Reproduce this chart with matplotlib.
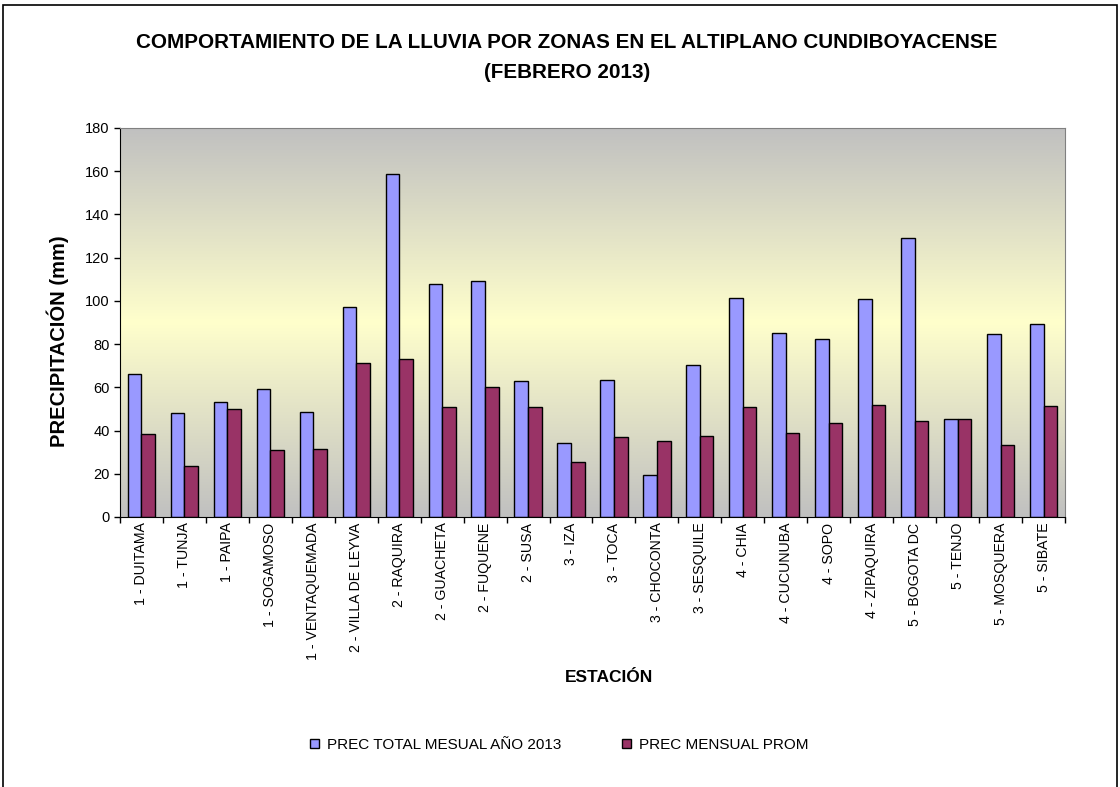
import numpy as np
import matplotlib
matplotlib.use('Agg')
import matplotlib.pyplot as plt
from matplotlib.colors import LinearSegmentedColormap
from matplotlib.patches import Rectangle

plt.rcParams['font.family'] = ['Liberation Sans', 'DejaVu Sans']

estaciones = ['1 - DUITAMA', '1 - TUNJA', '1 - PAIPA', '1 - SOGAMOSO', '1 - VENTAQUEMADA',
              '2 - VILLA DE LEYVA', '2 - RAQUIRA', '2 - GUACHETA', '2 - FUQUENE', '2 - SUSA',
              '3 - IZA', '3 - TOCA', '3 - CHOCONTA', '3 - SESQUILE', '4 - CHIA', '4 - CUCUNUBA',
              '4 - SOPO', '4 - ZIPAQUIRA', '5 - BOGOTA DC', '5 - TENJO', '5 - MOSQUERA', '5 - SIBATE']

# precipitacion total febrero 2013 (mm)
prec_total = [66.0, 48.2, 53.0, 59.0, 48.8, 97.0, 158.7, 108.0, 109.1, 63.0, 34.0,
              63.2, 19.6, 70.3, 101.2, 85.3, 82.4, 100.7, 128.9, 45.3, 84.7, 89.5]
# precipitacion mensual promedio (mm)
prec_prom = [38.2, 23.6, 50.1, 30.9, 31.5, 71.4, 72.9, 50.7, 60.3, 50.7, 25.6,
             36.9, 35.1, 37.5, 50.8, 38.8, 43.6, 51.9, 44.2, 45.3, 33.4, 51.3]

fig = plt.figure(figsize=(11.2, 7.87), dpi=100)
ax = fig.add_axes([0.1071, 0.3431, 0.8438, 0.4943])

# marco del grafico
fig.patches.append(Rectangle((0.003, -0.05), 0.994, 1.044, transform=fig.transFigure,
                             fill=False, edgecolor='black', linewidth=1.2))

n = len(estaciones)
x = np.arange(n)
w = 0.317

# fondo degradado gris - amarillo - gris
cmap = LinearSegmentedColormap.from_list('fondo', ['#C0C0C0', '#FFFFCC', '#C0C0C0'])
grad = np.linspace(0, 1, 256).reshape(-1, 1)
ax.imshow(grad, cmap=cmap, aspect='auto', extent=(-0.5, n - 0.5, 0, 180),
          origin='lower', zorder=0)

ax.bar(x - w / 2, prec_total, w, color='#9999FF', edgecolor='black', linewidth=1,
       label='PREC TOTAL MESUAL AÑO 2013', zorder=2)
ax.bar(x + w / 2, prec_prom, w, color='#993366', edgecolor='black', linewidth=1,
       label='PREC MENSUAL PROM', zorder=2)

ax.set_xlim(-0.5, n - 0.5)
ax.set_ylim(0, 180)
ax.set_yticks(range(0, 181, 20))
ax.set_xticks(np.arange(-0.5, n, 1.0))
ax.set_xticklabels([])
ax.set_xticks(x, minor=True)
ax.set_xticklabels(estaciones, minor=True, rotation=90, fontsize=10.2)
ax.tick_params(axis='x', which='minor', length=0, pad=4)
ax.tick_params(axis='x', which='major', length=4, direction='out', width=1)
ax.tick_params(axis='y', length=4, direction='out', labelsize=10.5, width=1)

for s in ['top', 'right']:
    ax.spines[s].set_color('#808080')
for s in ['left', 'bottom']:
    ax.spines[s].set_color('black')

fig.text(0.506, 1 - 42 / 787, 'COMPORTAMIENTO DE LA LLUVIA POR ZONAS EN EL ALTIPLANO CUNDIBOYACENSE',
         ha='center', va='center', fontsize=14.9, fontweight='bold')
fig.text(0.506, 1 - 72 / 787, '(FEBRERO 2013)', ha='center', va='center', fontsize=14.9,
         fontweight='bold')
fig.text(58 / 1120, 1 - 341 / 787, 'PRECIPITACIÓN (mm)', rotation=90, ha='center', va='center',
         fontsize=14.5, fontweight='bold')
fig.text(609 / 1120, 1 - 678 / 787, 'ESTACIÓN', ha='center', va='center',
         fontsize=12.5, fontweight='bold')

fig.legend(loc='center', bbox_to_anchor=(559 / 1120, 1 - 745 / 787), ncol=2, frameon=False,
           fontsize=11, handlelength=0.6, handleheight=0.6, handletextpad=0.5, columnspacing=4.0)

plt.savefig('out.png', dpi=100)
